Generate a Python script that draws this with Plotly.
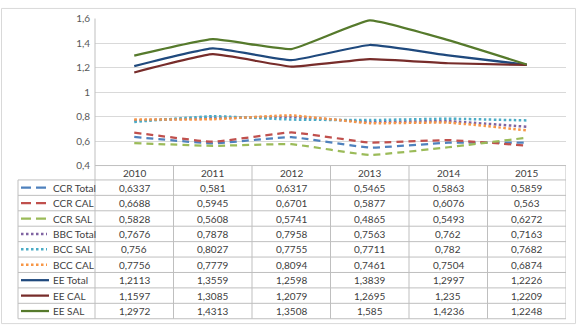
import plotly.graph_objects as go

W, H = 578, 332

years = ["2010", "2011", "2012", "2013", "2014", "2015"]
series_names = ["CCR Total", "CCR CAL", "CCR SAL", "BBC Total", "BCC SAL", "BCC CAL",
                "EE Total", "EE CAL", "EE SAL"]
ccr_total = [0.6337, 0.581, 0.6317, 0.5465, 0.5863, 0.5859]
ccr_cal = [0.6688, 0.5945, 0.6701, 0.5877, 0.6076, 0.563]
ccr_sal = [0.5828, 0.5608, 0.5741, 0.4865, 0.5493, 0.6272]
bbc_total = [0.7676, 0.7878, 0.7958, 0.7563, 0.762, 0.7163]
bcc_sal = [0.756, 0.8027, 0.7755, 0.7711, 0.782, 0.7682]
bcc_cal = [0.7756, 0.7779, 0.8094, 0.7461, 0.7504, 0.6874]
ee_total = [1.2113, 1.3559, 1.2598, 1.3839, 1.2997, 1.2226]
ee_cal = [1.1597, 1.3085, 1.2079, 1.2695, 1.235, 1.2209]
ee_sal = [1.2972, 1.4313, 1.3508, 1.585, 1.4236, 1.2248]
y_ticks = [0.4, 0.6, 0.8, 1.0, 1.2, 1.4, 1.6]

all_series = [ccr_total, ccr_cal, ccr_sal, bbc_total, bcc_sal, bcc_cal, ee_total, ee_cal, ee_sal]
colors = ["#4F81BD", "#C0504D", "#9BBB59", "#8064A2", "#4BACC6", "#F79646",
          "#1F497D", "#772C2A", "#567A2C"]
DASHED = "7px,5px"
DOTTED = "2.5px,2.5px"
dashes = [DASHED, DASHED, DASHED, DOTTED, DOTTED, DOTTED, "solid", "solid", "solid"]


def px(x):
    return x / W


def py(y):
    return 1 - y / H


FONT = "Lato"
TXT = "#404040"
TBL = "#BFBFBF"

fig = go.Figure()
for name, vals, col, d in zip(series_names, all_series, colors, dashes):
    fig.add_trace(go.Scatter(
        x=list(range(len(years))), y=vals, name=name, mode="lines",
        line=dict(color=col, width=2.5 if d == DOTTED else 2.25, dash=d,
                  shape="spline", smoothing=0.35),
        showlegend=False, hoverinfo="y+name"))

plot_left, plot_right = 95, 566
plot_top, plot_bottom = 12, 165
row_top = 180
row_h = 16.05
table_left = 18
n_rows = len(series_names)
table_bottom = row_top + row_h * n_rows

shapes = []
shapes.append(dict(type="rect", xref="paper", yref="paper", x0=px(1.5), x1=px(575.5),
                   y0=py(329.5), y1=py(1.5), line=dict(color="#D9D9D9", width=1)))
shapes.append(dict(type="line", xref="paper", yref="paper", x0=px(plot_left), x1=px(plot_left),
                   y0=py(plot_top), y1=py(table_bottom), line=dict(color=TBL, width=1)))
for k in range(1, len(years) + 1):
    shapes.append(dict(type="line", xref="x", yref="paper", x0=k - 0.5, x1=k - 0.5,
                       y0=py(plot_bottom), y1=py(table_bottom), line=dict(color=TBL, width=1)))
shapes.append(dict(type="line", xref="paper", yref="paper", x0=px(table_left), x1=px(table_left),
                   y0=py(row_top), y1=py(table_bottom), line=dict(color=TBL, width=1)))
shapes.append(dict(type="line", xref="paper", yref="paper", x0=px(plot_left), x1=px(plot_right),
                   y0=py(plot_bottom), y1=py(plot_bottom), line=dict(color=TBL, width=1)))
for r in range(n_rows + 1):
    yy = row_top + r * row_h
    shapes.append(dict(type="line", xref="paper", yref="paper", x0=px(table_left), x1=px(plot_right),
                       y0=py(yy), y1=py(yy), line=dict(color=TBL, width=1)))

annotations = []
for i, yr in enumerate(years):
    annotations.append(dict(x=i, xref="x", y=py((plot_bottom + row_top) / 2), yref="paper",
                            text=yr, showarrow=False, xanchor="center", yanchor="middle",
                            font=dict(family=FONT, size=10, color=TXT)))
for r, (name, vals, col, d) in enumerate(zip(series_names, all_series, colors, dashes)):
    yc = row_top + r * row_h + row_h / 2
    if d == "solid":
        x0s, x1s, w = 21, 49, 2.25
    elif d == DOTTED:
        x0s, x1s, w = 21, 47, 2.5
    else:
        x0s, x1s, w = 21, 46, 2.25
    dd = {DASHED: "10px,5px", DOTTED: "2.5px,2.5px", "solid": "solid"}[d]
    shapes.append(dict(type="line", xref="paper", yref="paper", x0=px(x0s), x1=px(x1s),
                       y0=py(yc), y1=py(yc), line=dict(color=col, width=w, dash=dd)))
    annotations.append(dict(x=px(51), xref="paper", y=py(yc), yref="paper", text=name,
                            showarrow=False, xanchor="left", yanchor="middle",
                            font=dict(family=FONT, size=10, color=TXT)))
    for i, v in enumerate(vals):
        txt = ("%g" % v).replace(".", ",")
        annotations.append(dict(x=i, xref="x", y=py(yc), yref="paper", text=txt,
                                showarrow=False, xanchor="center", yanchor="middle",
                                font=dict(family=FONT, size=10, color=TXT)))

fig.update_layout(
    width=W, height=H, margin=dict(l=0, r=0, t=0, b=0),
    paper_bgcolor="white", plot_bgcolor="white",
    separators=",.",
    font=dict(family=FONT, size=10, color="#595959"),
    xaxis=dict(range=[-0.5, 5.5], domain=[px(plot_left), px(plot_right)],
               showticklabels=False, showgrid=False, zeroline=False, showline=False, ticks=""),
    yaxis=dict(range=[0.4, 1.6], domain=[py(plot_bottom), py(plot_top)],
               tickvals=y_ticks, showgrid=True, gridcolor="#D9D9D9", gridwidth=1,
               zeroline=False, showline=False, ticks="", ticklabelstandoff=4,
               tickfont=dict(family=FONT, size=10, color="#595959")),
    shapes=shapes, annotations=annotations,
)

fig.write_html("out.html")
